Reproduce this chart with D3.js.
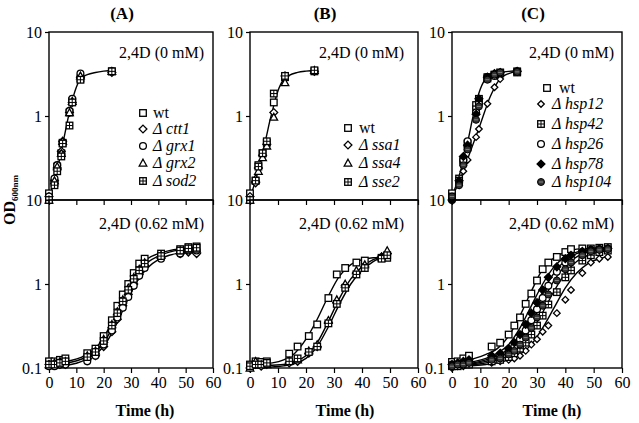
<!DOCTYPE html>
<html><head><meta charset="utf-8">
<script src="https://cdn.jsdelivr.net/npm/d3@7"></script>
<style>body{margin:0;background:#fff}svg{display:block}</style>
</head><body><svg id="c" width="639" height="423"></svg>
<script>
// ---------------- DATA ----------------
const xTicks = [0, 10, 20, 30, 40, 50, 60];
const yTicksTop = [1, 10];
const yTicksBottom = [0.1, 1, 10];
const panelTitles = ["(A)", "(B)", "(C)"];
const topCondition = "2,4D (0 mM)";
const bottomCondition = "2,4D (0.62 mM)";

// Panel A, 0 mM
const aTopTime = [0, 2, 3, 4.5, 5, 7.5, 8.5, 11.5, 23];
const aTopWt   = [0.12, 0.16, 0.25, 0.36, 0.48, 1.1, 1.5, 2.8, 3.4];
const aTopCtt1 = [0.11, 0.17, 0.24, 0.38, 0.5, 1.1, 1.45, 2.9, 3.3];
const aTopGrx1 = [0.11, 0.18, 0.26, 0.35, 0.48, 1.15, 1.6, 3.2, 3.4];
const aTopGrx2 = [0.1, 0.17, 0.25, 0.36, 0.5, 1.1, 1.5, 3.0, 3.4];
const aTopSod2 = [0.1, 0.15, 0.22, 0.33, 0.47, 0.77, 1.45, 2.7, 3.4];
const aTopFitT = [0, 2, 3, 4, 5, 6, 7, 8, 9, 10, 11, 12, 14, 17, 20, 24];
const aTopFit  = [0.11, 0.17, 0.23, 0.32, 0.46, 0.66, 0.95, 1.3, 1.75, 2.2, 2.6, 2.85, 3.1, 3.3, 3.42, 3.5];

// Panel A, 0.62 mM
const aBotTime = [0, 2, 4, 6, 14, 17, 20, 23, 25, 27, 29, 31, 33, 35, 41, 48, 51, 54];
const aBotWt   = [0.12, 0.12, 0.125, 0.13, 0.15, 0.17, 0.24, 0.37, 0.55, 0.75, 1.0, 1.35, 1.75, 2.0, 2.3, 2.6, 2.75, 2.8];
const aBotCtt1 = [0.11, 0.11, 0.11, 0.11, 0.13, 0.14, 0.18, 0.27, 0.38, 0.55, 0.75, 1.0, 1.3, 1.6, 2.1, 2.3, 2.4, 2.3];
const aBotGrx1 = [0.105, 0.105, 0.11, 0.11, 0.12, 0.14, 0.19, 0.28, 0.4, 0.52, 0.7, 0.95, 1.25, 1.55, 2.0, 2.3, 2.5, 2.5];
const aBotGrx2 = [0.11, 0.115, 0.12, 0.12, 0.14, 0.16, 0.22, 0.33, 0.47, 0.65, 0.9, 1.2, 1.5, 1.8, 2.2, 2.5, 2.6, 2.6];
const aBotSod2 = [0.11, 0.11, 0.115, 0.12, 0.135, 0.155, 0.21, 0.32, 0.45, 0.62, 0.85, 1.15, 1.45, 1.75, 2.15, 2.5, 2.65, 2.7];
const aBotFitT = [0, 4, 8, 12, 16, 20, 24, 28, 32, 36, 40, 44, 48, 52, 55];
const aBotFitEarly = [0.115, 0.118, 0.123, 0.135, 0.16, 0.23, 0.42, 0.85, 1.5, 2.0, 2.3, 2.5, 2.62, 2.7, 2.75];
const aBotFitMid   = [0.11, 0.112, 0.117, 0.128, 0.15, 0.2, 0.34, 0.68, 1.25, 1.8, 2.15, 2.4, 2.55, 2.62, 2.65];
const aBotFitLate  = [0.105, 0.107, 0.11, 0.12, 0.14, 0.18, 0.3, 0.57, 1.05, 1.55, 1.95, 2.2, 2.35, 2.42, 2.45];

// Panel B, 0 mM
const bTopTime = [0, 2, 3, 4.5, 6, 8.5, 12.5, 23];
const bTopWt   = [0.12, 0.17, 0.26, 0.36, 0.48, 1.45, 2.9, 3.4];
const bTopSsa1 = [0.11, 0.16, 0.24, 0.34, 0.46, 1.1, 3.0, 3.4];
const bTopSsa4 = [0.1, 0.18, 0.22, 0.32, 0.44, 0.97, 2.5, 3.5];
const bTopSse2 = [0.1, 0.17, 0.25, 0.36, 0.5, 1.85, 3.0, 3.5];
const bTopFitT = [0, 2, 3, 4, 5, 6, 7, 8, 9, 10, 11, 12, 14, 17, 20, 24];
const bTopFit  = [0.11, 0.17, 0.23, 0.31, 0.43, 0.6, 0.85, 1.15, 1.55, 2.0, 2.4, 2.7, 3.05, 3.3, 3.42, 3.5];

// Panel B, 0.62 mM
const bBotTime = [0, 2, 4, 6, 14, 17, 21, 24, 28, 31, 34, 38, 41, 47, 49];
const bBotWt   = [0.11, 0.12, 0.118, 0.12, 0.148, 0.18, 0.24, 0.33, 0.68, 1.3, 1.55, 1.8, 1.9, 2.05, 2.05];
const bBotSsa1 = [0.1, 0.11, 0.105, 0.11, 0.115, 0.12, 0.15, 0.18, 0.35, 0.6, 0.95, 1.35, 1.6, 2.1, 2.3];
const bBotSsa4 = [0.1, 0.12, 0.11, 0.11, 0.12, 0.125, 0.16, 0.19, 0.37, 0.65, 1.0, 1.45, 1.7, 2.1, 2.5];
const bBotSse2 = [0.105, 0.11, 0.11, 0.115, 0.12, 0.13, 0.155, 0.18, 0.34, 0.58, 0.9, 1.3, 1.55, 2.0, 2.2];
const bBotFitT = [0, 4, 8, 12, 16, 20, 24, 28, 32, 36, 40, 44, 48];
const bBotFitEarly = [0.11, 0.112, 0.115, 0.125, 0.15, 0.22, 0.38, 0.72, 1.25, 1.7, 1.95, 2.05, 2.1];
const bBotFitLate1 = [0.105, 0.106, 0.108, 0.11, 0.12, 0.14, 0.2, 0.36, 0.68, 1.15, 1.6, 1.95, 2.15];
const bBotFitLate2 = [0.1, 0.101, 0.103, 0.106, 0.113, 0.13, 0.18, 0.31, 0.58, 1.0, 1.45, 1.85, 2.15];

// Panel C, 0 mM
const cTopTime  = [0, 2.5, 4, 5.5, 8.5, 9.5, 12.5, 15, 17, 23];
const cTopWt    = [0.12, 0.18, 0.3, 0.47, 1.35, 1.5, 2.8, 3.1, 3.2, 3.3];
const cTopHsp12 = [0.1, 0.15, 0.22, 0.3, 0.56, 0.7, 1.4, 2.2, 2.75, 3.4];
const cTopHsp42 = [0.11, 0.17, 0.28, 0.42, 1.2, 1.6, 2.9, 3.1, 3.3, 3.4];
const cTopHsp26 = [0.1, 0.16, 0.3, 0.5, 1.1, 1.4, 2.9, 3.0, 3.2, 3.4];
const cTopHsp78 = [0.1, 0.17, 0.33, 0.45, 1.05, 1.6, 2.9, 3.2, 3.3, 3.4];
const cTopHsp104 = [0.11, 0.15, 0.26, 0.4, 0.9, 1.3, 2.7, 3.1, 3.3, 3.35];
const cTopFitT = [0, 2, 3, 4, 5, 6, 7, 8, 9, 10, 11, 12, 14, 17, 20, 24];
const cTopFitFast = [0.11, 0.17, 0.22, 0.3, 0.42, 0.58, 0.85, 1.2, 1.65, 2.1, 2.5, 2.8, 3.1, 3.3, 3.4, 3.45];
const cTopFitSlowT = [0, 2, 4, 6, 8, 10, 11, 12, 13, 14, 16, 18, 20, 24];
const cTopFitSlow  = [0.11, 0.15, 0.22, 0.34, 0.52, 0.8, 1.0, 1.25, 1.55, 1.85, 2.5, 2.95, 3.2, 3.45];

// Panel C, 0.62 mM
const cBotTime  = [0, 2, 4, 6, 14, 17, 20, 22, 24, 26, 28, 30, 32, 34, 37, 40, 42, 46, 49, 52, 55];
const cBotWt    = [0.118, 0.12, 0.13, 0.14, 0.18, 0.2, 0.25, 0.32, 0.4, 0.58, 0.77, 1.1, 1.5, 1.8, 2.1, 2.4, 2.6, 2.65, 2.65, 2.7, 2.75];
const cBotHsp78 = [0.11, 0.115, 0.12, 0.125, 0.14, 0.15, 0.17, 0.2, 0.25, 0.33, 0.45, 0.6, 0.85, 1.2, 1.6, 2.0, 2.2, 2.45, 2.55, 2.6, 2.65];
const cBotHsp26 = [0.11, 0.11, 0.115, 0.12, 0.13, 0.14, 0.16, 0.18, 0.22, 0.28, 0.37, 0.5, 0.68, 0.95, 1.4, 1.8, 2.05, 2.4, 2.55, 2.6, 2.65];
const cBotHsp104 = [0.105, 0.11, 0.11, 0.115, 0.125, 0.13, 0.145, 0.16, 0.19, 0.23, 0.3, 0.4, 0.55, 0.75, 1.1, 1.5, 1.8, 2.2, 2.45, 2.55, 2.6];
const cBotHsp42 = [0.105, 0.105, 0.11, 0.11, 0.12, 0.125, 0.135, 0.15, 0.17, 0.2, 0.25, 0.32, 0.42, 0.57, 0.8, 1.2, 1.45, 1.9, 2.2, 2.4, 2.5];
const cBotHsp12 = [0.1, 0.105, 0.105, 0.11, 0.115, 0.12, 0.125, 0.13, 0.14, 0.16, 0.19, 0.22, 0.27, 0.32, 0.45, 0.65, 0.85, 1.35, 1.8, 2.0, 2.1];
const cBotFitT = [0, 4, 8, 12, 16, 20, 24, 28, 32, 36, 40, 44, 48, 52, 56];
const cBotFitWt    = [0.115, 0.12, 0.13, 0.145, 0.17, 0.24, 0.42, 0.82, 1.5, 2.05, 2.4, 2.6, 2.65, 2.7, 2.72];
const cBotFitHsp78 = [0.112, 0.115, 0.12, 0.13, 0.15, 0.19, 0.3, 0.55, 1.0, 1.6, 2.1, 2.4, 2.55, 2.6, 2.62];
const cBotFitHsp26 = [0.11, 0.112, 0.116, 0.125, 0.14, 0.17, 0.25, 0.43, 0.8, 1.35, 1.9, 2.3, 2.5, 2.58, 2.6];
const cBotFitHsp104 = [0.108, 0.11, 0.113, 0.12, 0.13, 0.155, 0.21, 0.34, 0.62, 1.1, 1.65, 2.1, 2.4, 2.52, 2.56];
const cBotFitHsp42 = [0.106, 0.108, 0.11, 0.115, 0.125, 0.14, 0.18, 0.27, 0.46, 0.82, 1.35, 1.85, 2.2, 2.4, 2.48];
const cBotFitHsp12 = [0.104, 0.105, 0.107, 0.11, 0.115, 0.125, 0.145, 0.19, 0.3, 0.52, 0.9, 1.35, 1.75, 2.0, 2.15];

// strains (legend names) and marker types
const strainsA = ["wt", "ctt1", "grx1", "grx2", "sod2"];
const markersA = ["square", "diamond", "circle", "triangle", "boxplus"];
const strainsB = ["wt", "ssa1", "ssa4", "sse2"];
const markersB = ["square", "diamond", "triangle", "boxplus"];
const strainsC = ["wt", "hsp12", "hsp42", "hsp26", "hsp78", "hsp104"];
const markersC = ["square", "diamondSmall", "boxplus", "circle", "diamondFilled", "circleFilled"];

// ---------------- DRAWING ----------------
const FONT = '"Liberation Serif","Times New Roman",Times,serif';
const svg = d3.select("#c").style("font-family", FONT);

const panels = [
  { x0: 49, x1: 213, titleX: 122, timeX: 145, condRight: 204,
    legX: 143, legTextX: 153, legY: [113, 129, 146, 163, 181],
    strains: strainsA, markers: markersA,
    top: { time: aTopTime, values: [aTopWt, aTopCtt1, aTopGrx1, aTopGrx2, aTopSod2],
           fits: [[aTopFitT, aTopFit]] },
    bot: { time: aBotTime, values: [aBotWt, aBotCtt1, aBotGrx1, aBotGrx2, aBotSod2],
           fits: [[aBotFitT, aBotFitEarly], [aBotFitT, aBotFitMid], [aBotFitT, aBotFitLate]] } },
  { x0: 250, x1: 418, titleX: 325, timeX: 345, condRight: 404,
    legX: 348, legTextX: 359, legY: [128, 145, 163, 182],
    strains: strainsB, markers: markersB,
    top: { time: bTopTime, values: [bTopWt, bTopSsa1, bTopSsa4, bTopSse2],
           fits: [[bTopFitT, bTopFit]] },
    bot: { time: bBotTime, values: [bBotWt, bBotSsa1, bBotSsa4, bBotSse2],
           fits: [[bBotFitT, bBotFitEarly], [bBotFitT, bBotFitLate1], [bBotFitT, bBotFitLate2]] } },
  { x0: 452, x1: 622, titleX: 533, timeX: 552, condRight: 614,
    legX: 541, legTextX: 552, legY: [88, 104, 124, 144, 164, 182], wtLegX: 547, wtTextX: 559,
    strains: strainsC, markers: markersC,
    top: { time: cTopTime, values: [cTopWt, cTopHsp12, cTopHsp42, cTopHsp26, cTopHsp78, cTopHsp104],
           fits: [[cTopFitT, cTopFitFast], [cTopFitSlowT, cTopFitSlow]] },
    bot: { time: cBotTime, values: [cBotWt, cBotHsp12, cBotHsp42, cBotHsp26, cBotHsp78, cBotHsp104],
           fits: [[cBotFitT, cBotFitWt], [cBotFitT, cBotFitHsp78], [cBotFitT, cBotFitHsp26],
                  [cBotFitT, cBotFitHsp104], [cBotFitT, cBotFitHsp42], [cBotFitT, cBotFitHsp12]] } }
];

function marker(g, type, cx, cy) {
  const s = 3.3, sw = 1.3;
  if (type === "square") {
    g.append("rect").attr("x", cx - s).attr("y", cy - s).attr("width", 2 * s).attr("height", 2 * s)
      .attr("fill", "#fff").attr("stroke", "#000").attr("stroke-width", sw);
  } else if (type === "boxplus") {
    g.append("rect").attr("x", cx - s).attr("y", cy - s).attr("width", 2 * s).attr("height", 2 * s)
      .attr("fill", "#fff").attr("stroke", "#000").attr("stroke-width", sw);
    g.append("path").attr("d", `M${cx - s},${cy}H${cx + s}M${cx},${cy - s}V${cy + s}`)
      .attr("stroke", "#000").attr("stroke-width", 1);
  } else if (type === "diamond" || type === "diamondSmall" || type === "diamondFilled") {
    const d = type === "diamondSmall" ? 3.3 : 3.9;
    g.append("path").attr("d", `M${cx},${cy - d}L${cx + d},${cy}L${cx},${cy + d}L${cx - d},${cy}Z`)
      .attr("fill", type === "diamondFilled" ? "#000" : "#fff").attr("stroke", "#000").attr("stroke-width", sw);
  } else if (type === "circle") {
    g.append("circle").attr("cx", cx).attr("cy", cy).attr("r", 3.4)
      .attr("fill", "#fff").attr("stroke", "#000").attr("stroke-width", sw);
  } else if (type === "circleFilled") {
    g.append("circle").attr("cx", cx).attr("cy", cy).attr("r", 3.5)
      .attr("fill", "#333").attr("stroke", "#000").attr("stroke-width", 1);
    g.append("path").attr("d", `M${cx - 2},${cy}H${cx + 2}`).attr("stroke", "#999").attr("stroke-width", 0.8);
  } else if (type === "triangle") {
    const d = 3.8;
    g.append("path").attr("d", `M${cx},${cy - d}L${cx + d},${cy + d * 0.8}L${cx - d},${cy + d * 0.8}Z`)
      .attr("fill", "#fff").attr("stroke", "#000").attr("stroke-width", sw);
  }
}

const yTop = d3.scaleLog().domain([0.1, 10]).range([200, 32]);
const yBot = d3.scaleLog().domain([0.1, 10]).range([368, 200]);

function styleAxis(g) {
  g.selectAll(".domain").remove();
  g.selectAll(".tick line").attr("stroke", "#000").attr("stroke-width", 1.2);
  g.selectAll(".tick text").attr("font-family", FONT).attr("font-size", 16).attr("fill", "#000");
}

panels.forEach(p => {
  const x = d3.scaleLinear().domain([0, 60]).range([p.x0, p.x1]);

  // title
  svg.append("text").attr("x", p.titleX).attr("y", 19).attr("text-anchor", "middle")
    .attr("font-weight", "bold").attr("font-size", 17).text(panelTitles[panels.indexOf(p)]);

  [["top", yTop, yTicksTop, topCondition], ["bot", yBot, yTicksBottom, bottomCondition]].forEach(([key, y, yt, cond]) => {
    const d = p[key];
    const g = svg.append("g");
    // axes
    const ya = g.append("g").attr("transform", `translate(${p.x0},0)`)
      .call(d3.axisLeft(y).tickValues(yt).tickFormat(v => v === 0.1 ? "0.1" : String(v)).tickSize(4).tickPadding(3));
    styleAxis(ya);
    const xa = g.append("g").attr("transform", `translate(0,${y.range()[0]})`)
      .call(d3.axisBottom(x).tickValues(xTicks).tickSize(5).tickPadding(4)
        .tickFormat(key === "bot" ? d3.format("d") : () => ""));
    styleAxis(xa);
    // frame
    g.append("rect").attr("x", p.x0).attr("y", y.range()[1]).attr("width", p.x1 - p.x0)
      .attr("height", y.range()[0] - y.range()[1]).attr("fill", "none").attr("stroke", "#000").attr("stroke-width", 1.4);
    // condition label
    g.append("text").attr("x", p.condRight).attr("y", y.range()[1] + (key === "top" ? 26 : 29))
      .attr("text-anchor", "end").attr("font-size", 16).text(cond);
    // fitted curves
    const line = d3.line().x(q => x(q[0])).y(q => y(q[1])).curve(d3.curveMonotoneX);
    d.fits.forEach(([ft, fv]) => {
      g.append("path").attr("d", line(d3.zip(ft, fv))).attr("fill", "none")
        .attr("stroke", "#000").attr("stroke-width", 1.4);
    });
    // points
    d.values.forEach((vals, si) => {
      const mg = g.append("g");
      vals.forEach((v, i) => marker(mg, p.markers[si], x(d.time[i]), y(v)));
    });
  });

  // legend
  const lg = svg.append("g");
  p.strains.forEach((s, i) => {
    const yy = p.legY[i];
    const isWt = s === "wt";
    const mx = isWt && p.wtLegX ? p.wtLegX : p.legX;
    const tx = isWt && p.wtTextX ? p.wtTextX : p.legTextX;
    marker(lg, p.markers[i], mx, yy);
    const t = lg.append("text").attr("x", tx).attr("y", yy + 5).attr("font-size", 16);
    if (isWt) t.text("wt");
    else {
      t.append("tspan").attr("font-style", "italic").text("\u0394 ");
      t.append("tspan").attr("font-style", "italic").text(s);
    }
  });

  // x label
  svg.append("text").attr("x", p.timeX).attr("y", 416).attr("text-anchor", "middle")
    .attr("font-weight", "bold").attr("font-size", 16).text("Time (h)");
});

// y label
const yl = svg.append("text").attr("transform", "translate(15,225) rotate(-90)")
  .attr("font-weight", "bold").attr("font-size", 16);
yl.append("tspan").text("OD");
yl.append("tspan").attr("font-size", 9).attr("dy", 3).text("600nm");
</script></body></html>
